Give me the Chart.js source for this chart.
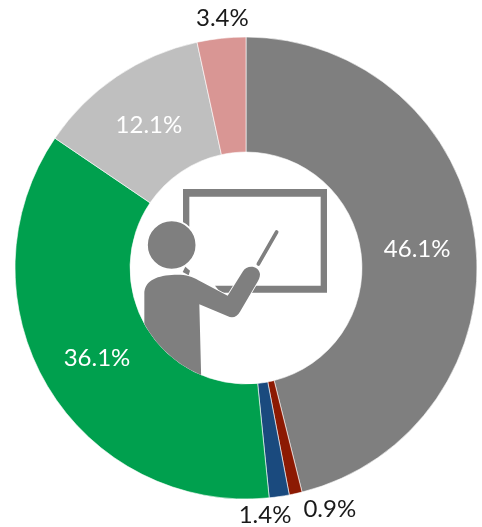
<!DOCTYPE html>
<html><head><meta charset="utf-8">
<style>html,body{margin:0;padding:0;background:#fff}#w{width:482px;height:527px;position:relative}</style>
<script src="https://cdn.jsdelivr.net/npm/chart.js@4"></script></head>
<body><div id="w"><canvas id="c" width="482" height="527"></canvas></div>
<script>
const categories = ["A","B","C","D","E","F"];
const values = [46.1,0.9,1.4,36.1,12.1,3.4];
const sliceColors = ["#7F7F7F","#8C1A03","#1A4A7E","#00A04E","#BFBFBF","#D99694"];
const tickLabels = ["46.1%","0.9%","1.4%","36.1%","12.1%","3.4%"];
const labelColors = ["#fff","#1a1a1a","#1a1a1a","#fff","#fff","#1a1a1a"];
const labelOffsets = [[-1,2],[30,-3],[-17,0],[0,1],[0,1],[3,-1]];
const outside = [false,true,true,false,false,true];

const labelsPlugin = {
  id:'labels',
  afterDatasetsDraw(chart){
    const ctx = chart.ctx, meta = chart.getDatasetMeta(0);
    ctx.save();
    ctx.font = '24px Lato, "Open Sans", sans-serif';
    ctx.textAlign='center'; ctx.textBaseline='middle';
    meta.data.forEach((arc,i)=>{
      const mid=(arc.startAngle+arc.endAngle)/2;
      const r = outside[i] ? arc.outerRadius+19 : (arc.innerRadius+arc.outerRadius)/2;
      ctx.fillStyle=labelColors[i];
      ctx.fillText(tickLabels[i], arc.x+Math.cos(mid)*r+labelOffsets[i][0], arc.y+Math.sin(mid)*r+labelOffsets[i][1]);
    });
    ctx.restore();
  }
};
const iconPlugin = {
  id:'icon',
  afterDatasetsDraw(chart){
    const ctx = chart.ctx, arc = chart.getDatasetMeta(0).data[0];
    ctx.save();
    ctx.beginPath(); ctx.arc(arc.x,arc.y,arc.innerRadius,0,Math.PI*2); ctx.clip();
    ctx.translate(arc.x-116, arc.y-98); ctx.scale(1/3,1/3);
    ctx.fillStyle='#7F7F7F';
    // board frame, open behind the figure
    ctx.beginPath();
    ctx.moveTo(159,57);ctx.lineTo(591,57);ctx.lineTo(591,368);ctx.lineTo(272,368);
    ctx.lineTo(255,347);ctx.lineTo(572,347);ctx.lineTo(572,80);ctx.lineTo(178,80);ctx.lineTo(178,170);ctx.lineTo(159,170);
    ctx.closePath();ctx.fill();
    // pointer
    ctx.strokeStyle='#7F7F7F';ctx.lineCap='round';ctx.lineWidth=11;
    ctx.beginPath();ctx.moveTo(385,282);ctx.lineTo(440,186);ctx.stroke();
    // head
    ctx.strokeStyle='#fff';ctx.lineWidth=5;
    ctx.beginPath();ctx.arc(125,225,74,0,Math.PI*2);ctx.fill();ctx.stroke();
    // neck mark
    ctx.beginPath();ctx.moveTo(166,290);ctx.lineTo(180,302);ctx.lineTo(176,316);ctx.lineTo(158,306);ctx.closePath();ctx.fill();
    // body and arm
    ctx.beginPath();
    ctx.moveTo(43,372);
    ctx.bezierCurveTo(43,335,75,318,125,315);
    ctx.bezierCurveTo(160,312,185,318,205,331);
    ctx.lineTo(293,377);
    ctx.lineTo(338,305);
    ctx.bezierCurveTo(350,284,385,285,390,312);
    ctx.bezierCurveTo(390,322,386,330,380,340);
    ctx.lineTo(330,425);
    ctx.bezierCurveTo(322,440,308,446,292,438);
    ctx.lineTo(208,403);
    ctx.lineTo(214,640);
    ctx.lineTo(43,640);
    ctx.closePath();
    ctx.stroke();ctx.fill();
    ctx.restore();
  }
};
new Chart(document.getElementById('c'),{
  type:'doughnut',
  data:{labels:categories,datasets:[{data:values,backgroundColor:sliceColors,borderColor:'#ffffff',borderWidth:0.6}]},
  options:{
    responsive:false,animation:false,
    radius:231,cutout:'50.2%',
    layout:{padding:{left:10,top:9,right:0,bottom:0}},
    plugins:{legend:{display:false},tooltip:{enabled:false}}
  },
  plugins:[labelsPlugin,iconPlugin]
});
</script></body></html>
